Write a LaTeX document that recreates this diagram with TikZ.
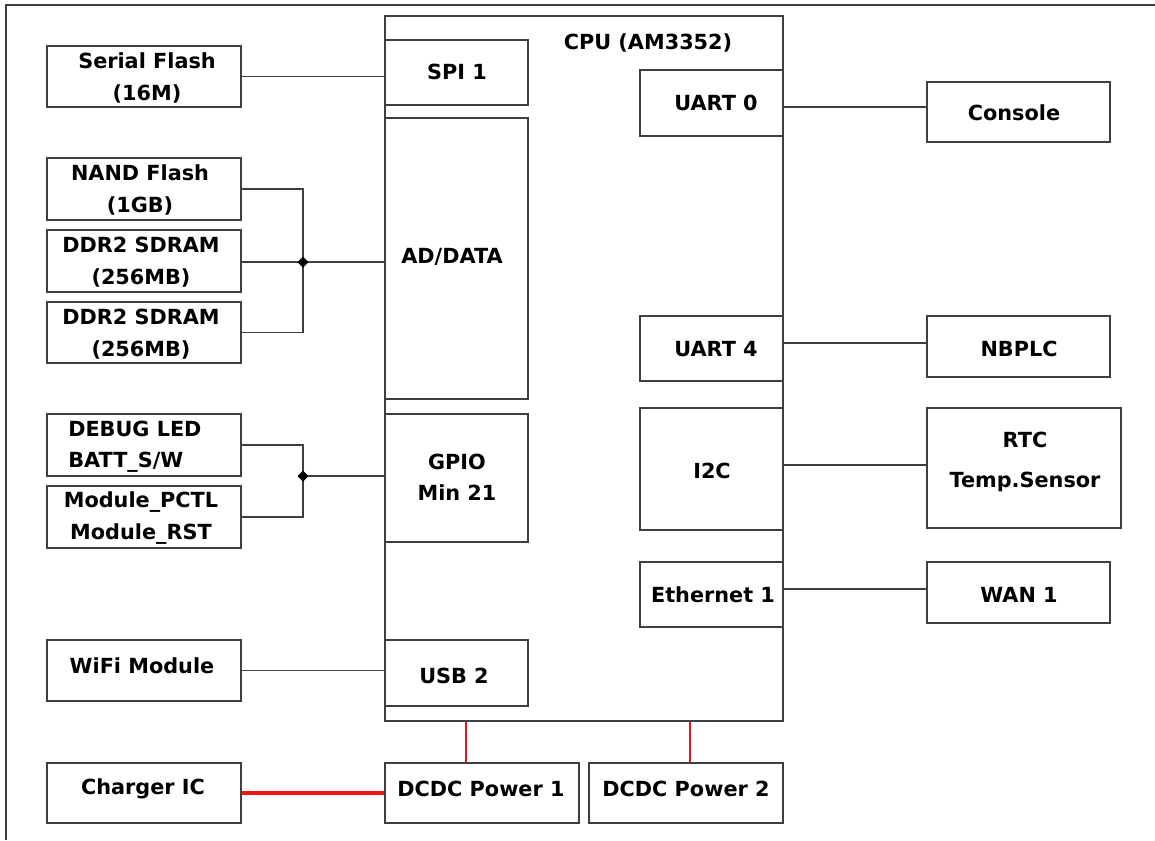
\documentclass[tikz,border=0pt]{standalone}
\usepackage{fontspec}
\setmainfont{DejaVu Sans}
\usetikzlibrary{fit}
\definecolor{linegray}{RGB}{64,64,64}
\definecolor{pwrred}{RGB}{240,20,20}
\tikzset{
  box/.style={draw=linegray, line width=1.3pt, inner sep=0pt},
  lbl/.style={font=\bfseries\fontsize{15.6}{23.5}\selectfont, align=center, inner sep=0pt, text=black},
  wire/.style={draw=linegray, line width=1.3pt},
  pwr/.style={draw=pwrred, line width=1.5pt},
  pwrbold/.style={draw=pwrred, line width=2.4pt},
  dotfill/.style={fill=black},
}
\begin{document}
\begin{tikzpicture}[x=0.75pt, y=-0.75pt]
\useasboundingbox (0,0) rectangle (1155,840);
% outer frame
\draw[wire] (6,840) -- (6,5) -- (1155,5);

% CPU
\node[box, fit={(385,16) (783,721)}] (cpu) {};
\node[lbl] (tcpu) at (648,43) {CPU (AM3352)};
\node[box, fit={(385,40) (528,105)}] (spi) {};
\node[lbl] (tspi) at (457,72) {SPI 1};
\node[box, fit={(385,118) (528,399)}] (ad) {};
\node[lbl] (tad) at (452,257) {AD/DATA};
\node[box, fit={(385,414) (528,542)}] (gpio) {};
\node[lbl] (tgpio) at (457,477) {GPIO\\Min 21};
\node[box, fit={(385,640) (528,706)}] (usb) {};
\node[lbl] (tusb) at (454,676) {USB 2};
\node[box, fit={(640,70) (783,136)}] (uart0) {};
\node[lbl] (tuart0) at (716,103) {UART 0};
\node[box, fit={(640,316) (783,381)}] (uart4) {};
\node[lbl] (tuart4) at (716,349) {UART 4};
\node[box, fit={(640,408) (783,530)}] (i2c) {};
\node[lbl] (ti2c) at (712,471) {I2C};
\node[box, fit={(640,562) (783,627)}] (eth) {};
\node[lbl] (teth) at (713,595) {Ethernet 1};

% left peripherals
\node[box, fit={(47,46) (241,107)}] (sf) {};
\node[lbl] (tsf) at (147,78) {Serial Flash\\(16M)};
\node[box, fit={(47,158) (241,220)}] (nand) {};
\node[lbl] (tnand) at (140,190) {NAND Flash\\(1GB)};
\node[box, fit={(47,230) (241,292)}] (ddra) {};
\node[lbl] (tddra) at (141,262) {DDR2 SDRAM\\(256MB)};
\node[box, fit={(47,302) (241,363)}] (ddrb) {};
\node[lbl] (tddrb) at (141,334) {DDR2 SDRAM\\(256MB)};
\node[box, fit={(47,414) (241,476)}] (dbg) {};
\node[lbl, align=left, anchor=west] (tdbg) at (68,447) {DEBUG LED\\BATT\_S/W};
\node[box, fit={(47,486) (241,548)}] (mod) {};
\node[lbl] (tmod) at (141,518) {Module\_PCTL\\Module\_RST};
\node[box, fit={(47,640) (241,701)}] (wifi) {};
\node[lbl] (twifi) at (142,666) {WiFi Module};
\node[box, fit={(47,763) (241,823)}] (chg) {};
\node[lbl] (tchg) at (143,789) {Charger IC};

% bottom power
\node[box, fit={(385,763) (579,823)}] (dc1) {};
\node[lbl] (tdc1) at (481,789) {DCDC Power 1};
\node[box, fit={(589,763) (783,823)}] (dc2) {};
\node[lbl] (tdc2) at (686,789) {DCDC Power 2};

% right peripherals
\node[box, fit={(927,82) (1110,142)}] (con) {};
\node[lbl] (tcon) at (1014,113) {Console};
\node[box, fit={(927,316) (1110,377)}] (nb) {};
\node[lbl] (tnb) at (1019,349) {NBPLC};
\node[box, fit={(927,408) (1121,528)}] (rtc) {};
\node[lbl] (trtc) at (1025,462) {RTC\\[6pt]Temp.Sensor};
\node[box, fit={(927,562) (1110,623)}] (wan) {};
\node[lbl] (twan) at (1019,595) {WAN 1};

% junctions
\coordinate (j1) at (303,262);
\coordinate (j2) at (303,476);

% left connectors
\draw[wire] (sf.east) -- (sf.east -| cpu.west);
\draw[wire] (nand.east) -| (j1);
\draw[wire] (ddrb.east) -| (j1);
\draw[wire] (ddra.east |- j1) -- (j1) -- (j1 -| cpu.west);
\draw[wire] (dbg.east) -| (j2);
\draw[wire] (mod.east) -| (j2);
\draw[wire] (j2) -- (j2 -| cpu.west);
\draw[wire] (wifi.east) -- (wifi.east -| cpu.west);

% junction dots
\fill[dotfill] (j1) ++(-5.5,0) -- ++(5.5,-5.5) -- ++(5.5,5.5) -- ++(-5.5,5.5) -- cycle;
\fill[dotfill] (j2) ++(-5.5,0) -- ++(5.5,-5.5) -- ++(5.5,5.5) -- ++(-5.5,5.5) -- cycle;

% right connectors
\draw[wire] ([yshift=-3pt]uart0.east) -- ([yshift=-3pt]uart0.east -| con.west);
\draw[wire] ([yshift=2.6pt]nb.west -| cpu.east) -- ([yshift=2.6pt]nb.west);
\draw[wire] ([yshift=2.2pt]rtc.west -| cpu.east) -- ([yshift=2.2pt]rtc.west);
\draw[wire] ([yshift=2.6pt]wan.west -| cpu.east) -- ([yshift=2.6pt]wan.west);

% power connectors
\coordinate (p1) at (466,0);
\coordinate (p2) at (690,0);
\draw[pwr] (p1 |- cpu.south) -- (p1 |- dc1.north);
\draw[pwr] (p2 |- cpu.south) -- (p2 |- dc2.north);
\draw[pwrbold] (chg.east) -- (dc1.west);
\end{tikzpicture}
\end{document}
